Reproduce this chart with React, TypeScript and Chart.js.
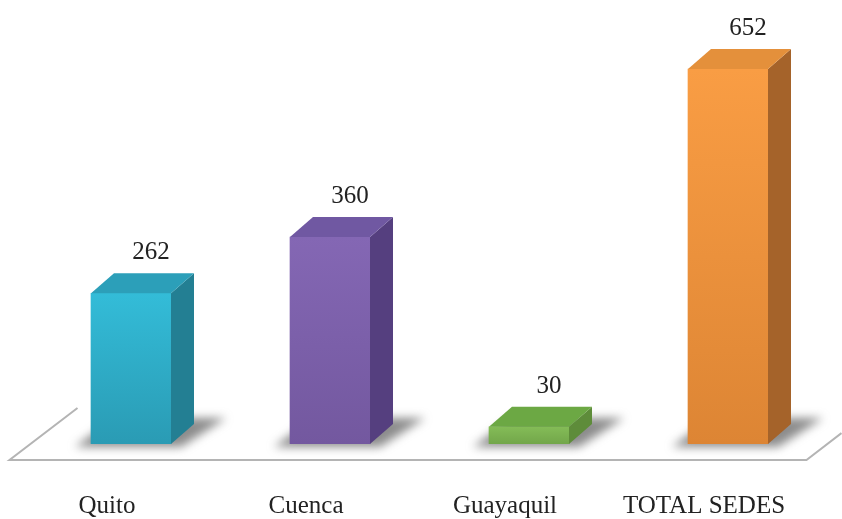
import React, { useEffect, useRef } from "react";
import { Chart, registerables } from "chart.js";

Chart.register(...registerables);

const categories = ["Quito", "Cuenca", "Guayaquil", "TOTAL SEDES"];
const values = [262, 360, 30, 652];
const frontTop = ["#33bcd8", "#8467b4", "#84bc57", "#f99d44"];
const frontBottom = ["#2a9bb4", "#73589f", "#72a64a", "#dd8534"];
const sideColors = ["#237f93", "#553f7f", "#5e8c3a", "#a5632a"];
const topColors = ["#2c9fb9", "#7058a2", "#6ca844", "#e4903b"];

const DX = 23;
const DY = 20;

const bar3d = {
  id: "bar3d",
  beforeDatasetsDraw(chart: any) {
    const { ctx, chartArea } = chart;
    const { left, right, bottom } = chartArea;
    ctx.save();
    ctx.strokeStyle = "#b4b4b4";
    ctx.lineWidth = 2;
    ctx.beginPath();
    ctx.moveTo(left + 46, bottom - 36);
    ctx.lineTo(left - 22, bottom + 16);
    ctx.lineTo(right - 21, bottom + 16);
    ctx.lineTo(right + 14, bottom - 11);
    ctx.stroke();
    const meta = chart.getDatasetMeta(0);
    ctx.filter = "blur(5px)";
    ctx.fillStyle = "rgba(95,95,95,0.72)";
    meta.data.forEach((el: any) => {
      const l = el.x - el.width / 2;
      const r = el.x + el.width / 2;
      const b = el.base;
      ctx.beginPath();
      ctx.moveTo(l - 16, b + 3);
      ctx.lineTo(r + 10, b + 3);
      ctx.lineTo(r + DX + 32, b - DY - 6);
      ctx.lineTo(l + DX, b - DY - 6);
      ctx.closePath();
      ctx.fill();
    });
    ctx.restore();
  },
  afterDatasetsDraw(chart: any) {
    const { ctx } = chart;
    const meta = chart.getDatasetMeta(0);
    ctx.save();
    meta.data.forEach((el: any, i: number) => {
      const l = el.x - el.width / 2;
      const r = el.x + el.width / 2;
      const t = el.y;
      const b = el.base;
      ctx.fillStyle = sideColors[i];
      ctx.beginPath();
      ctx.moveTo(r, t);
      ctx.lineTo(r + DX, t - DY);
      ctx.lineTo(r + DX, b - DY);
      ctx.lineTo(r, b);
      ctx.closePath();
      ctx.fill();
      ctx.fillStyle = topColors[i];
      ctx.beginPath();
      ctx.moveTo(l, t);
      ctx.lineTo(l + DX, t - DY);
      ctx.lineTo(r + DX, t - DY);
      ctx.lineTo(r, t);
      ctx.closePath();
      ctx.fill();
      ctx.fillStyle = "#222";
      ctx.font = "25px 'Liberation Serif'";
      ctx.textAlign = "center";
      ctx.textBaseline = "alphabetic";
      ctx.fillText(String(values[i]), el.x + 20, t - 34);
    });
    ctx.restore();
  },
};

export default function App() {
  const ref = useRef<HTMLCanvasElement>(null);
  useEffect(() => {
    const chart = new Chart(ref.current!, {
      type: "bar",
      data: {
        labels: categories,
        datasets: [
          {
            data: values,
            backgroundColor: (c: any) => {
              const ch = c.chart;
              const ys = ch.scales && ch.scales.y;
              const i = c.dataIndex ?? 0;
              if (!ch.chartArea || !ys) return frontTop[i];
              const y0 = ys.getPixelForValue(values[i]);
              const y1 = ys.getPixelForValue(0);
              if (!Number.isFinite(y0) || !Number.isFinite(y1) || y0 === y1) return frontTop[i];
              const g = ch.ctx.createLinearGradient(0, y0, 0, y1);
              g.addColorStop(0, frontTop[i]);
              g.addColorStop(1, frontBottom[i]);
              return g;
            },
            barThickness: 80,
            borderWidth: 0,
          },
        ],
      },
      options: {
        animation: false,
        responsive: false,
        maintainAspectRatio: false,
        layout: { padding: { left: 31.5, right: 14.5, top: 41.5, bottom: 0 } },
        plugins: { legend: { display: false }, tooltip: { enabled: false } },
        scales: {
          x: {
            grid: { display: false, drawTicks: false },
            border: { display: false },
            afterFit: (s: any) => {
              s.height = 75;
              s.paddingLeft = 0;
              s.paddingRight = 0;
            },
            ticks: {
              padding: 47,
              labelOffset: -24,
              color: "#222",
              font: { family: "'Liberation Serif'", size: 25 },
              maxRotation: 0,
              autoSkip: false,
            },
          },
          y: {
            display: false,
            min: 0,
            max: 700,
          },
        },
      },
      plugins: [bar3d],
    });
    return () => chart.destroy();
  }, []);
  return (
    <div style={{ position: "fixed", left: 0, top: 0, width: 842, height: 519, background: "#fff" }}>
      <canvas ref={ref} width={842} height={519} style={{ width: 842, height: 519 }} />
    </div>
  );
}
